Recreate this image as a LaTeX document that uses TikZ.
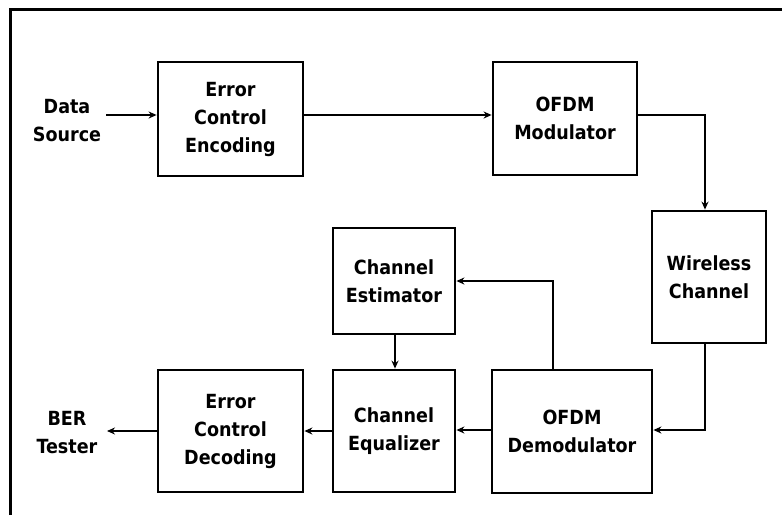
\documentclass[tikz,border=0pt]{standalone}
\usepackage{fontspec}
\setmainfont{DejaVu Sans Condensed}
\usetikzlibrary{arrows.meta}
\begin{document}
\begin{tikzpicture}[x=1pt,y=-1pt,
  block/.style={draw,line width=2.8pt,inner sep=0pt,align=center,
    font=\fontsize{19.5}{28}\selectfont\bfseries},
  label/.style={inner sep=0pt,align=center,font=\fontsize{19.5}{28}\selectfont\bfseries},
  link/.style={line width=2.6pt,-{Stealth[length=8pt,width=7pt]}},
  frameline/.style={line width=3pt}]
\useasboundingbox (0,0) rectangle (782,515);
% open frame along the top and left
\draw[frameline] (10,515) -- (10,9) -- (782,9);

% transmitter chain
\node[label] (src) at (67,121) {Data\\Source};
\node[block,minimum width=145pt,minimum height=114pt] (enc) at (230.5,119) {Error\\Control\\Encoding};
\node[block,minimum width=144pt,minimum height=113pt] (mod) at (565,118.5) {OFDM\\Modulator};
\node[block,minimum width=114pt,minimum height=132pt] (wch) at (709,277) {Wireless\\Channel};

% receiver chain
\node[block,minimum width=160pt,minimum height=123pt] (dem) at (572,431.5) {OFDM\\Demodulator};
\node[block,minimum width=122pt,minimum height=106pt] (est) at (394,281) {Channel\\Estimator};
\node[block,minimum width=122pt,minimum height=122pt] (equ) at (394,431) {Channel\\Equalizer};
\node[block,minimum width=145pt,minimum height=122pt] (dec) at (230.5,431) {Error\\Control\\Decoding};
\node[label] (ber) at (67,433) {BER\\Tester};

\coordinate (srcout) at (106,115);
\coordinate (berin) at (107,431);

\draw[link] (srcout) -- (enc.west |- srcout);
\draw[link] (enc.east |- srcout) -- (mod.west |- srcout);
\draw[link] (mod.east |- srcout) -| (wch.north -| 705,0);
\draw[link] (wch.south -| 705,0) |- (dem.east |- 0,430);
\draw[link] (dem.north -| 553,0) |- (est.east |- 0,281);
\draw[link] (est.south -| 395,0) -- (equ.north -| 395,0);
\draw[link] (dem.west |- 0,430) -- (equ.east |- 0,430);
\draw[link] (equ.west |- 0,431) -- (dec.east |- 0,431);
\draw[link] (dec.west |- berin) -- (berin);
\end{tikzpicture}
\end{document}
